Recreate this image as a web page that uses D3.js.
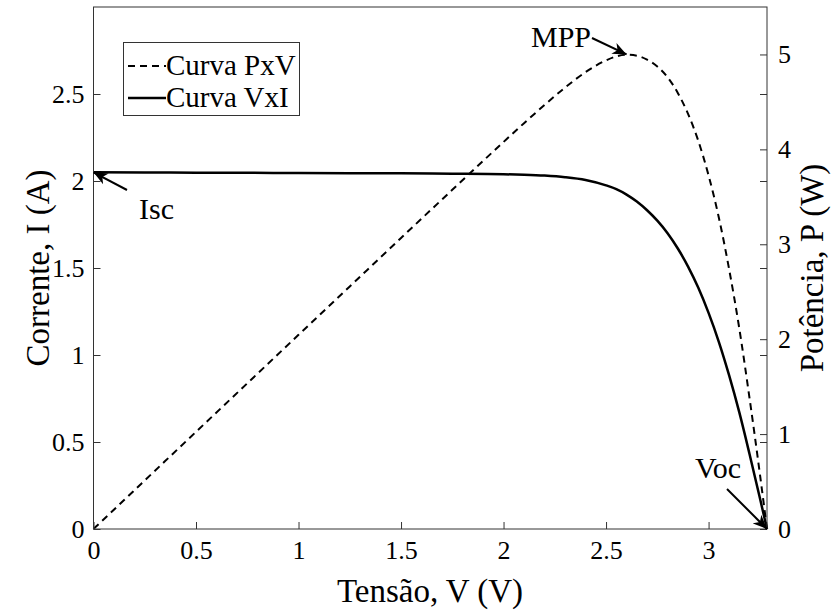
<!DOCTYPE html>
<html><head><meta charset="utf-8">
<script src="https://cdn.jsdelivr.net/npm/d3@7"></script>
<style>
html,body{margin:0;padding:0;background:#fff;}
svg text{font-family:"Liberation Serif","Times New Roman","DejaVu Serif",serif;fill:#000;}
</style></head>
<body>
<svg id="c" width="833" height="610"></svg>
<script>
// ---- data ----
const voltage = [0, 0.25, 0.5, 0.75, 1.0, 1.25, 1.5, 1.75, 2.0, 2.1, 2.2, 2.3, 2.4, 2.5, 2.55, 2.6, 2.65, 2.7, 2.75, 2.8, 2.85, 2.9, 2.95, 3.0, 3.05, 3.1, 3.15, 3.2, 3.25, 3.285];
const current = [2.050, 2.049, 2.048, 2.047, 2.046, 2.045, 2.044, 2.042, 2.039, 2.036, 2.031, 2.022, 2.006, 1.975, 1.953, 1.922, 1.882, 1.832, 1.772, 1.700, 1.612, 1.508, 1.386, 1.242, 1.076, 0.884, 0.670, 0.430, 0.180, 0];
const power   = [0, 0.512, 1.024, 1.535, 2.046, 2.556, 3.066, 3.574, 4.078, 4.276, 4.468, 4.651, 4.814, 4.938, 4.980, 4.997, 4.987, 4.946, 4.873, 4.760, 4.594, 4.373, 4.089, 3.726, 3.282, 2.740, 2.111, 1.376, 0.585, 0];
const xTicks = [0, 0.5, 1, 1.5, 2, 2.5, 3];
const yLeftTicks = [0, 0.5, 1, 1.5, 2, 2.5];
const yRightTicks = [0, 1, 2, 3, 4, 5];
const xDomain = [0, 3.285];
const yLeftDomain = [0, 3.0];
const yRightDomain = [0, 5.5];
const legendLabels = ["Curva PxV", "Curva VxI"];
const annotations = [
  {label: "Isc", v: 0,     val: 2.05, axis: "L"},
  {label: "MPP", v: 2.6,   val: 5.0,  axis: "R"},
  {label: "Voc", v: 3.285, val: 0,    axis: "L"}
];
const xTitle = "Tensão, V (V)";
const yLeftTitle = "Corrente, I (A)";
const yRightTitle = "Potência, P (W)";

// ---- layout ----
const L = 93.5, R = 767, T = 7, B = 529;
const svg = d3.select("#c");
const x = d3.scaleLinear().domain(xDomain).range([L, R]);
const yL = d3.scaleLinear().domain(yLeftDomain).range([B, T]);
const yR = d3.scaleLinear().domain(yRightDomain).range([B, T]);
const axisColor = "#333";
const tk = 7;
const FF = '"Liberation Serif","Times New Roman","DejaVu Serif",serif';

const defs = svg.append("defs");
defs.append("marker").attr("id", "arr").attr("viewBox", "-14 -7 16 14")
  .attr("refX", 0).attr("refY", 0).attr("markerWidth", 16).attr("markerHeight", 14)
  .attr("markerUnits", "userSpaceOnUse").attr("orient", "auto")
  .append("path").attr("d", "M0,0 L-14,-6 L-10,0 L-14,6 Z").attr("fill", "#000");

// curves
const lineI = d3.line().x((d, i) => x(voltage[i])).y(d => yL(d)).curve(d3.curveMonotoneX);
const lineP = d3.line().x((d, i) => x(voltage[i])).y(d => yR(d)).curve(d3.curveMonotoneX);
svg.append("path").attr("d", lineP(power)).attr("fill", "none").attr("stroke", "#000")
  .attr("stroke-width", 2).attr("stroke-dasharray", "7,5");
svg.append("path").attr("d", lineI(current)).attr("fill", "none").attr("stroke", "#000")
  .attr("stroke-width", 2.5);

// axes
const fs = 26;
const gx = svg.append("g").attr("transform", `translate(0,${B})`)
  .call(d3.axisBottom(x).tickValues(xTicks).tickSize(-tk).tickPadding(11).tickFormat(d3.format("")));
const gyl = svg.append("g").attr("transform", `translate(${L},0)`)
  .call(d3.axisLeft(yL).tickValues(yLeftTicks).tickSize(-tk).tickPadding(9).tickFormat(d3.format("")));
const gyr = svg.append("g").attr("transform", `translate(${R},0)`)
  .call(d3.axisRight(yR).tickValues(yRightTicks).tickSize(-tk).tickPadding(11).tickFormat(d3.format("")));
const gyl2 = svg.append("g").attr("transform", `translate(${R},0)`)
  .call(d3.axisRight(yL).tickValues(yLeftTicks).tickSize(-tk).tickFormat(""));
[gx, gyl, gyr, gyl2].forEach(g => {
  g.attr("font-size", fs).attr("font-family", FF);
  g.select(".domain").remove();
  g.selectAll("line").attr("stroke", axisColor);
  g.selectAll("text").attr("fill", "#000").attr("font-size", fs);
});
gx.selectAll("text").attr("dy", "0.72em");

// box
svg.append("rect").attr("x", L).attr("y", T).attr("width", R - L).attr("height", B - T)
  .attr("fill", "none").attr("stroke", axisColor).attr("stroke-width", 1);

// titles
svg.append("text").attr("x", 430).attr("y", 602).attr("text-anchor", "middle")
  .attr("font-size", 33).text(xTitle);
svg.append("text").attr("transform", `translate(49,${(T + B) / 2}) rotate(-90)`).attr("text-anchor", "middle")
  .attr("font-size", 33).text(yLeftTitle);
svg.append("text").attr("transform", `translate(823,${(T + B) / 2}) rotate(-90)`).attr("text-anchor", "middle")
  .attr("font-size", 33).text(yRightTitle);

// legend
const lg = svg.append("g");
lg.append("rect").attr("x", 123.5).attr("y", 42.5).attr("width", 176).attr("height", 73)
  .attr("fill", "#fff").attr("stroke", axisColor);
const rows = [66, 98];
lg.append("line").attr("x1", 128).attr("x2", 166).attr("y1", rows[0]).attr("y2", rows[0])
  .attr("stroke", "#000").attr("stroke-width", 2).attr("stroke-dasharray", "7,5");
lg.append("line").attr("x1", 128).attr("x2", 166).attr("y1", rows[1]).attr("y2", rows[1])
  .attr("stroke", "#000").attr("stroke-width", 2.5);
legendLabels.forEach((t, i) => {
  lg.append("text").attr("x", 166).attr("y", rows[i] + 9).attr("font-size", 29).text(t);
});

// annotations
const ann = {
  Isc: {tail: [127, 190], text: [139, 219], anchor: "start"},
  MPP: {tail: [592, 38], text: [591, 47], anchor: "end"},
  Voc: {tail: [727, 489], text: [695, 478], anchor: "start"}
};
annotations.forEach(a => {
  const hx = x(a.v), hy = a.axis === "L" ? yL(a.val) : yR(a.val);
  const s = ann[a.label];
  svg.append("line").attr("x1", s.tail[0]).attr("y1", s.tail[1]).attr("x2", hx).attr("y2", hy)
    .attr("stroke", "#000").attr("stroke-width", 2).attr("marker-end", "url(#arr)");
  svg.append("text").attr("x", s.text[0]).attr("y", s.text[1]).attr("text-anchor", s.anchor)
    .attr("font-size", 30).text(a.label);
});
</script>
</body></html>
